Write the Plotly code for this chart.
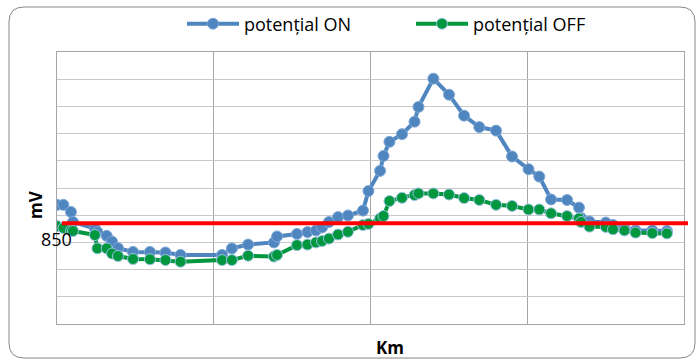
import plotly.graph_objects as go

# Survey stations along the pipeline (km)
km = [0.00, 0.41, 0.89, 1.02, 2.42, 2.58, 3.17, 3.51, 3.89, 4.85, 5.93, 6.92, 7.88,
      10.53, 11.16, 12.19, 13.84, 14.04, 15.31, 15.98, 16.52, 16.91, 17.35, 17.93,
      18.56, 19.52, 19.87, 20.61, 20.83, 21.21, 22.01, 22.81, 23.06, 24.01, 25.01,
      25.97, 26.94, 28.01, 29.03, 30.08, 30.77, 31.52, 32.54, 33.30, 33.43, 33.97,
      35.01, 35.47, 36.20, 36.91, 37.98, 38.91]

# Pipe-to-soil potential with protection current on (mV)
pot_on = [918, 918, 892, 855, 831, 818, 804, 783, 759, 745, 745, 743, 734,
          734, 758, 772, 780, 802, 811, 818, 824, 835, 855, 873,
          879, 897, 969, 1043, 1098, 1150, 1178, 1224, 1278, 1382, 1323,
          1246, 1204, 1191, 1096, 1049, 1022, 938, 936, 908, 870, 857,
          853, 844, 833, 824, 824, 822]

# Instant-off potential (mV)
pot_off = [840, 833, 824, 822, 807, 758, 758, 739, 730, 719, 718, 715, 709,
           715, 715, 731, 728, 734, 770, 772, 780, 785, 794, 809,
           819, 844, 848, 868, 877, 932, 944, 954, 960, 960, 956,
           943, 936, 918, 914, 901, 901, 887, 877, 868, 855, 838,
           837, 828, 824, 816, 814, 813]

THRESHOLD = 850  # protection criterion (mV)

X_RANGE = [0, 40]
X_STEP = 10
Y_RANGE = [480, 1480]
Y_STEP = 100

BLUE = "#4F86C0"
GREEN = "#00973F"
FONT = "Open Sans"

fig = go.Figure()

fig.add_trace(go.Scatter(
    x=km, y=pot_on, name="potențial ON", mode="lines+markers",
    line=dict(color=BLUE, width=4),
    marker=dict(size=11, color=BLUE, line=dict(color="#7FA8D6", width=1)),
))
fig.add_trace(go.Scatter(
    x=km, y=pot_off, name="potențial OFF", mode="lines+markers",
    line=dict(color=GREEN, width=4),
    marker=dict(size=11, color=GREEN, line=dict(color="#9CC3E5", width=1)),
))

W, H = 697, 360
ML, MR, MT, MB = 57, 13, 52, 36
PW, PH = W - ML - MR, H - MT - MB


def px_x(p):
    return (p - ML) / PW


def px_y(p):
    return (H - MB - p) / PH


# rounded frame around the whole chart
x0, x1 = px_x(9), px_x(695)
y0, y1 = px_y(7), px_y(358)
rx, ry = 15 / PW, 15 / PH
frame = (
    f"M {x0 + rx},{y0} L {x1 - rx},{y0} Q {x1},{y0} {x1},{y0 - ry} "
    f"L {x1},{y1 + ry} Q {x1},{y1} {x1 - rx},{y1} "
    f"L {x0 + rx},{y1} Q {x0},{y1} {x0},{y1 + ry} "
    f"L {x0},{y0 - ry} Q {x0},{y0} {x0 + rx},{y0} Z"
)

fig.update_layout(
    width=W, height=H,
    margin=dict(l=ML, r=MR, t=MT, b=MB, autoexpand=False),
    paper_bgcolor="white", plot_bgcolor="white",
    font=dict(family=FONT, size=18, color="#000000"),
    showlegend=True,
    legend=dict(
        orientation="h", x=px_x(182), y=px_y(24), xanchor="left", yanchor="middle",
        font=dict(family=FONT, size=18), bgcolor="rgba(0,0,0,0)",
        entrywidth=162, entrywidthmode="pixels", itemwidth=52,
    ),
    xaxis=dict(
        range=X_RANGE, dtick=X_STEP, tick0=0, showticklabels=False, ticks="",
        showgrid=True, gridcolor="#A6A6A6", gridwidth=1, zeroline=False,
        showline=True, linecolor="#A6A6A6", linewidth=1, mirror=True,
    ),
    yaxis=dict(
        range=Y_RANGE, dtick=Y_STEP, tick0=Y_RANGE[0], showticklabels=False, ticks="",
        showgrid=True, gridcolor="#C8C8C8", gridwidth=1, zeroline=False,
        showline=True, linecolor="#A6A6A6", linewidth=1, mirror=True,
    ),
    shapes=[
        dict(type="path", path=frame, xref="paper", yref="paper",
             line=dict(color="#868686", width=1), layer="below"),
        dict(type="line", xref="paper", yref="y", x0=px_x(62), x1=px_x(688),
             y0=THRESHOLD, y1=THRESHOLD, line=dict(color="#FF0000", width=4),
             layer="above"),
    ],
    annotations=[
        dict(text=str(THRESHOLD), xref="paper", yref="paper", x=px_x(56), y=px_y(239),
             showarrow=False, font=dict(family=FONT, size=18, color="#000000"),
             xanchor="center", yanchor="middle"),
        dict(text="<b>mV</b>", xref="paper", yref="paper", x=px_x(35), y=px_y(205),
             showarrow=False, textangle=-90, font=dict(family=FONT, size=17),
             xanchor="center", yanchor="middle"),
        dict(text="<b>Km</b>", xref="paper", yref="paper", x=px_x(390), y=px_y(347),
             showarrow=False, font=dict(family=FONT, size=17),
             xanchor="center", yanchor="middle"),
    ],
)

fig.write_html("out.html")
